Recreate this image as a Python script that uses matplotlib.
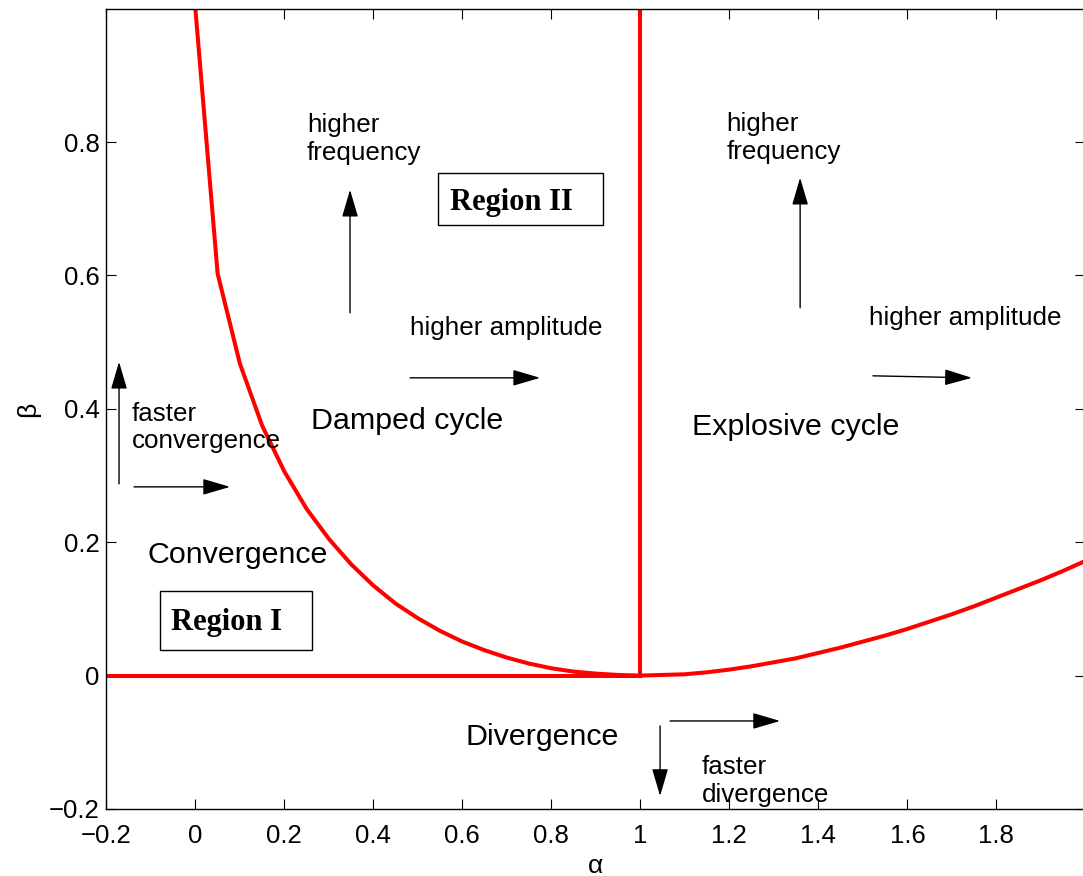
import matplotlib
matplotlib.use('Agg')
import matplotlib.pyplot as plt
from matplotlib.patches import Rectangle

# Boundary curve beta(alpha) at steps of 0.05
alpha_left = [0.0, 0.05, 0.10, 0.15, 0.20, 0.25, 0.30, 0.35, 0.40, 0.45, 0.50,
              0.55, 0.60, 0.65, 0.70, 0.75, 0.80, 0.85, 0.90, 0.95, 1.00]
beta_left = [1.0, 0.603, 0.468, 0.375, 0.306, 0.250, 0.205, 0.167, 0.135, 0.108, 0.086,
             0.067, 0.051, 0.038, 0.027, 0.018, 0.011, 0.006, 0.003, 0.001, 0.0]
alpha_right = [1.00, 1.05, 1.10, 1.15, 1.20, 1.25, 1.30, 1.35, 1.40, 1.45, 1.50,
               1.55, 1.60, 1.65, 1.70, 1.75, 1.80, 1.85, 1.90, 1.95, 2.00]
beta_right = [0.0, 0.001, 0.002, 0.005, 0.009, 0.014, 0.020, 0.026, 0.034, 0.042, 0.051,
              0.060, 0.070, 0.081, 0.092, 0.104, 0.117, 0.130, 0.143, 0.157, 0.172]

# straight boundaries
zero_line_x = [-0.2, 1.0]
zero_line_y = [0.0, 0.0]
unit_line_x = [1.0, 1.0]
unit_line_y = [0.0, 1.0]

xticks = [-0.2, 0, 0.2, 0.4, 0.6, 0.8, 1, 1.2, 1.4, 1.6, 1.8]
yticks = [-0.2, 0, 0.2, 0.4, 0.6, 0.8]

plt.rcParams['font.family'] = ['Liberation Sans', 'DejaVu Sans']

fig = plt.figure(figsize=(10.83, 8.76), dpi=100)
ax = fig.add_axes([0.0982, 0.0765, 0.904, 0.9132])

red = '#ff0000'
ax.plot(alpha_left, beta_left, color=red, lw=2.9)
ax.plot(alpha_right, beta_right, color=red, lw=2.9)
ax.plot(zero_line_x, zero_line_y, color=red, lw=2.9)
ax.plot(unit_line_x, unit_line_y, color=red, lw=2.9)

def fmt(t):
    return ('%g' % t).replace('-', '\u2212')

ax.set_xlim(-0.2, 2.0)
ax.set_ylim(-0.2, 0.9995)
ax.set_xticks(xticks)
ax.set_xticklabels([fmt(t) for t in xticks])
ax.set_yticks(yticks)
ax.set_yticklabels([fmt(t) for t in yticks])
ax.tick_params(direction='in', top=True, right=True, length=7, width=0.8,
               labelsize=18.5)
ax.tick_params(axis='x', pad=11)
ax.tick_params(axis='y', pad=5)
for s in ax.spines.values():
    s.set_linewidth(1.0)

ax.set_xlabel('α', fontsize=19, va='center')
ax.xaxis.set_label_coords(0.5, -0.071)
ax.set_ylabel('β', fontsize=19, va='center')
ax.yaxis.set_label_coords(-0.08, 0.5)

small = 18.7
big = 21.9
ls = 1.2

def arrow(tail, tip):
    ax.annotate('', xy=tip, xytext=tail,
                arrowprops=dict(arrowstyle='-|>,head_length=0.85,head_width=0.25',
                                color='black', lw=1.0, mutation_scale=20,
                                shrinkA=0, shrinkB=0))

# Region I side
arrow((-0.1715, 0.2875), (-0.1715, 0.4705))
arrow((-0.1378, 0.283), (0.078, 0.283))
ax.text(-0.143, 0.372, 'faster\nconvergence', fontsize=small, va='center', linespacing=ls)
ax.text(-0.1066, 0.181, 'Convergence', fontsize=big, va='center')
ax.add_patch(Rectangle((-0.0793, 0.0385), 0.3415, 0.0885, fill=False, ec='black', lw=1.0))
ax.text(-0.0546, 0.08, 'Region I', fontsize=22, fontweight='bold',
        family='Liberation Serif', va='center')

# Damped cycle
arrow((0.3476, 0.544), (0.3476, 0.7285))
arrow((0.4825, 0.4465), (0.7747, 0.4465))
ax.text(0.251, 0.805, 'higher\nfrequency', fontsize=small, va='center', linespacing=ls)
ax.text(0.4825, 0.5215, 'higher amplitude', fontsize=small, va='center')
ax.text(0.2598, 0.382, 'Damped cycle', fontsize=big, va='center')
ax.add_patch(Rectangle((0.5454, 0.676), 0.3708, 0.078, fill=False, ec='black', lw=1.0))
ax.text(0.5724, 0.709, 'Region II', fontsize=22, fontweight='bold',
        family='Liberation Serif', va='center')

# Explosive cycle
arrow((1.359, 0.5515), (1.359, 0.7465))
arrow((1.5226, 0.4495), (1.7451, 0.4465))
ax.text(1.194, 0.8065, 'higher\nfrequency', fontsize=small, va='center', linespacing=ls)
ax.text(1.514, 0.5365, 'higher amplitude', fontsize=small, va='center')
ax.text(1.116, 0.373, 'Explosive cycle', fontsize=big, va='center')

# Divergence
arrow((1.0667, -0.068), (1.3139, -0.068))
arrow((1.0443, -0.0755), (1.0443, -0.1805))
ax.text(0.606, -0.092, 'Divergence', fontsize=big, va='center')
ax.text(1.138, -0.158, 'faster\ndivergence', fontsize=small, va='center', linespacing=ls)

fig.savefig('out.png', dpi=100)
